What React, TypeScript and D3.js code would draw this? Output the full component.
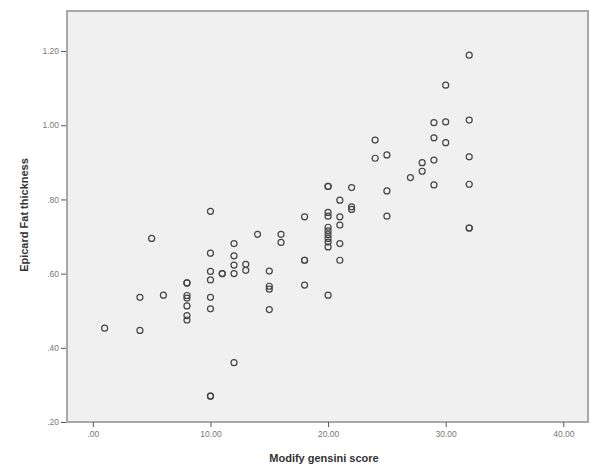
import React, { useEffect, useRef } from 'react';
import * as d3 from 'd3';

// Modify gensini score (x) and Epicard Fat thickness (y), one entry per patient
const gensiniScores = [
    1,
    4, 4,
    5,
    6,
    8, 8, 8, 8, 8, 8, 8,
    10, 10, 10, 10, 10, 10, 10, 10,
    11, 11,
    12, 12, 12, 12, 12,
    13, 13,
    14,
    15, 15, 15, 15,
    16, 16,
    18, 18, 18, 18,
    20, 20, 20, 20, 20, 20, 20, 20, 20, 20, 20,
    21, 21, 21, 21, 21,
    22, 22, 22,
    24, 24,
    25, 25, 25,
    27,
    28, 28,
    29, 29, 29, 29,
    30, 30, 30,
    32, 32, 32, 32, 32, 32,
];

const fatThickness = [
    0.453,
    0.536, 0.447,
    0.695,
    0.542,
    0.575, 0.575, 0.541, 0.534, 0.513, 0.487, 0.475,
    0.768, 0.655, 0.606, 0.583, 0.536, 0.505, 0.27, 0.27,
    0.600, 0.600,
    0.681, 0.648, 0.623, 0.600, 0.360,
    0.625, 0.609,
    0.706,
    0.607, 0.566, 0.558, 0.503,
    0.706, 0.684,
    0.753, 0.636, 0.636, 0.569,
    0.835, 0.835, 0.765, 0.755, 0.725, 0.715, 0.705, 0.695, 0.685, 0.672, 0.542,
    0.798, 0.753, 0.731, 0.681, 0.636,
    0.832, 0.780, 0.773,
    0.960, 0.911,
    0.920, 0.823, 0.755,
    0.859,
    0.899, 0.876,
    1.007, 0.966, 0.906, 0.839,
    1.108, 1.009, 0.953,
    1.189, 1.014, 0.915, 0.841, 0.723, 0.723,
];

const xTicks = [0, 10, 20, 30, 40];
const yTicks = [0.2, 0.4, 0.6, 0.8, 1.0, 1.2];

const fmt = (v: number) => {
    const s = d3.format('.2f')(v);
    return s.startsWith('0') ? s.slice(1) : s;
};

const App = () => {
    const ref = useRef<SVGSVGElement>(null);

    useEffect(() => {
        const svg = d3.select(ref.current);
        svg.selectAll('*').remove();

        const left = 67, top = 11, right = 588, bottom = 422;

        const xScale = d3.scaleLinear().domain([-2.2, 42.1]).range([left, right]);
        const yScale = d3.scaleLinear().domain([0.2, 1.308]).range([bottom, top]);

        svg.append('rect')
            .attr('x', left)
            .attr('y', top)
            .attr('width', right - left)
            .attr('height', bottom - top)
            .attr('fill', '#f0f0f0')
            .attr('stroke', '#a8a8a8')
            .attr('stroke-width', 2);

        const xAxis = d3.axisBottom(xScale)
            .tickValues(xTicks)
            .tickSize(5)
            .tickPadding(4)
            .tickFormat(d => fmt(+d));

        const yAxis = d3.axisLeft(yScale)
            .tickValues(yTicks)
            .tickSize(5)
            .tickPadding(2)
            .tickFormat(d => fmt(+d));

        const gx = svg.append('g')
            .attr('transform', `translate(0, ${bottom})`)
            .call(xAxis);
        const gy = svg.append('g')
            .attr('transform', `translate(${left - 1}, 0)`)
            .call(yAxis);

        [gx, gy].forEach(g => {
            g.select('.domain').remove();
            g.selectAll('line').attr('stroke', '#555');
            g.selectAll('text')
                .attr('fill', '#777')
                .style('font-family', 'Arial, "Liberation Sans", sans-serif')
                .style('font-size', '8.5px');
        });

        svg.selectAll('.dot')
            .data(d3.range(gensiniScores.length))
            .enter()
            .append('circle')
            .classed('dot', true)
            .attr('cx', i => xScale(gensiniScores[i]))
            .attr('cy', i => yScale(fatThickness[i]))
            .attr('r', 3)
            .attr('fill', 'none')
            .attr('stroke', '#444')
            .attr('stroke-width', 1.2);

        svg.append('text')
            .attr('x', 324)
            .attr('y', 462)
            .attr('text-anchor', 'middle')
            .attr('fill', '#333')
            .style('font-family', 'Arial, "Liberation Sans", sans-serif')
            .style('font-size', '11px')
            .style('font-weight', 'bold')
            .text('Modify gensini score');

        svg.append('text')
            .attr('transform', 'translate(28, 215) rotate(-90)')
            .attr('text-anchor', 'middle')
            .attr('fill', '#333')
            .style('font-family', 'Arial, "Liberation Sans", sans-serif')
            .style('font-size', '11px')
            .style('font-weight', 'bold')
            .text('Epicard Fat thickness');
    }, []);

    return (
        <svg ref={ref} width={593} height={466}
            style={{ position: 'absolute', left: 0, top: 0, background: '#fff' }}></svg>
    );
};

export default App;
